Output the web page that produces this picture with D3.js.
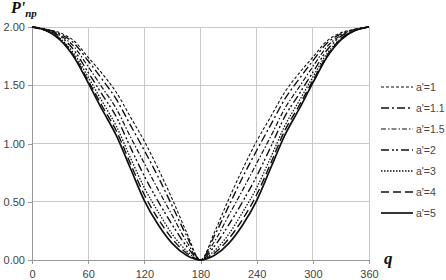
<!DOCTYPE html>
<html lang="en">
<head>
    <meta charset="UTF-8">
    <title>P'np vs q</title>
    <script src="https://cdn.jsdelivr.net/npm/d3@7/dist/d3.min.js"></script>
    <style>
        body { margin: 0; background: #fff; }
        svg text { font-family: "Liberation Sans", Arial, sans-serif; }
        g.axis path, g.axis line { stroke: #999; shape-rendering: crispEdges; }
        g.axis text { font-size: 11px; fill: #444; }
        .grid line { stroke: #c8c8c8; shape-rendering: crispEdges; }
    </style>
</head>
<body>
<script>
    // size of the picture
    var w = 446;
    var h = 280;

    // angles and tick labels
    var angles = [0, 15, 30, 45, 60, 75, 90, 105, 120, 135, 150, 165, 180,
                  195, 210, 225, 240, 255, 270, 285, 300, 315, 330, 345, 360];
    var xTicks = [0, 60, 120, 180, 240, 300, 360];
    var yTicks = [0, 0.5, 1, 1.5, 2];

    // series
    var names = ["a'=1", "a'=1.1", "a'=1.5", "a'=2", "a'=3", "a'=4", "a'=5"];
    var p1   = [2.00, 1.98, 1.95, 1.88, 1.74, 1.60, 1.44, 1.23, 1.02, 0.78, 0.52, 0.24, 0.00,
                0.24, 0.52, 0.78, 1.02, 1.23, 1.44, 1.60, 1.74, 1.88, 1.95, 1.98, 2.00];
    var p1_1 = [2.00, 1.98, 1.94, 1.86, 1.71, 1.55, 1.38, 1.16, 0.94, 0.71, 0.46, 0.21, 0.00,
                0.21, 0.46, 0.71, 0.94, 1.16, 1.38, 1.55, 1.71, 1.86, 1.94, 1.98, 2.00];
    var p1_5 = [2.00, 1.98, 1.93, 1.83, 1.66, 1.48, 1.30, 1.06, 0.83, 0.60, 0.38, 0.16, 0.00,
                0.16, 0.38, 0.60, 0.83, 1.06, 1.30, 1.48, 1.66, 1.83, 1.93, 1.98, 2.00];
    var p2   = [2.00, 1.97, 1.92, 1.80, 1.61, 1.42, 1.23, 0.97, 0.72, 0.50, 0.30, 0.12, 0.00,
                0.12, 0.30, 0.50, 0.72, 0.97, 1.23, 1.42, 1.61, 1.80, 1.92, 1.97, 2.00];
    var p3   = [2.00, 1.97, 1.90, 1.77, 1.57, 1.36, 1.15, 0.88, 0.62, 0.41, 0.22, 0.08, 0.00,
                0.08, 0.22, 0.41, 0.62, 0.88, 1.15, 1.36, 1.57, 1.77, 1.90, 1.97, 2.00];
    var p4   = [2.00, 1.97, 1.90, 1.75, 1.54, 1.32, 1.11, 0.83, 0.56, 0.35, 0.18, 0.06, 0.00,
                0.06, 0.18, 0.35, 0.56, 0.83, 1.11, 1.32, 1.54, 1.75, 1.90, 1.97, 2.00];
    var p5   = [2.00, 1.97, 1.89, 1.74, 1.52, 1.29, 1.07, 0.79, 0.51, 0.30, 0.14, 0.04, 0.00,
                0.04, 0.14, 0.30, 0.51, 0.79, 1.07, 1.29, 1.52, 1.74, 1.89, 1.97, 2.00];
    var series = [p1, p1_1, p1_5, p2, p3, p4, p5];

    // line styles per series
    var dashes = ["3,2", "8,3,2,3", "5,2,1.5,2", "8,3,2,2,2,3", "1.5,1.5", "8,4", null];
    var widths = [1.1, 1.4, 1.2, 1.4, 1.3, 1.4, 1.7];

    // plot box (window.top is read-only, so no "top" here)
    var plotLeft = 32, plotRight = 369, plotTop = 27, plotBottom = 260;

    var xScale = d3.scaleLinear().domain([0, 360]).range([plotLeft, plotRight]);
    var yScale = d3.scaleLinear().domain([0, 2]).range([plotBottom, plotTop]);

    var svg = d3.select('body').append('svg')
        .attr('width', w)
        .attr('height', h);

    // grid
    var grid = svg.append('g').attr('class', 'grid');
    grid.selectAll('line.h')
        .data(yTicks.slice(1))
        .enter().append('line')
        .attr('class', 'h')
        .attr('x1', plotLeft).attr('x2', plotRight)
        .attr('y1', function(d) { return yScale(d); })
        .attr('y2', function(d) { return yScale(d); });
    grid.selectAll('line.v')
        .data(xTicks.slice(1))
        .enter().append('line')
        .attr('class', 'v')
        .attr('y1', plotTop).attr('y2', plotBottom)
        .attr('x1', function(d) { return xScale(d); })
        .attr('x2', function(d) { return xScale(d); });

    // axes
    svg.append('g')
        .attr('class', 'axis')
        .attr('transform', 'translate(0,' + plotBottom + ')')
        .call(d3.axisBottom(xScale).tickValues(xTicks).tickSize(4).tickPadding(6).tickSizeOuter(0));

    svg.append('g')
        .attr('class', 'axis')
        .attr('transform', 'translate(' + plotLeft + ',0)')
        .call(d3.axisLeft(yScale).tickValues(yTicks).tickSize(4).tickPadding(3).tickSizeOuter(0)
            .tickFormat(d3.format('.2f')));

    // curves
    var line = d3.line()
        .x(function(d, i) { return xScale(angles[i]); })
        .y(function(d) { return yScale(d); })
        .curve(d3.curveMonotoneX);

    svg.selectAll('path.curve')
        .data(series)
        .enter().append('path')
        .attr('class', 'curve')
        .attr('d', line)
        .attr('fill', 'none')
        .attr('stroke', '#111')
        .attr('stroke-width', function(d, i) { return widths[i]; })
        .attr('stroke-dasharray', function(d, i) { return dashes[i]; });

    // legend
    var legend = svg.selectAll('g.legend')
        .data(names)
        .enter().append('g')
        .attr('class', 'legend')
        .attr('transform', function(d, i) { return 'translate(381,' + (87 + i * 21) + ')'; });

    legend.append('line')
        .attr('x1', 0).attr('x2', 32)
        .attr('y1', 0).attr('y2', 0)
        .attr('stroke', '#111')
        .attr('stroke-width', function(d, i) { return widths[i]; })
        .attr('stroke-dasharray', function(d, i) { return dashes[i]; });

    legend.append('text')
        .attr('x', 35)
        .attr('y', 4)
        .attr('font-size', '10.5px')
        .attr('fill', '#444')
        .text(function(d) { return d; });

    // axis titles
    var title = svg.append('text')
        .attr('x', 11)
        .attr('y', 13)
        .style('font-family', '"Liberation Serif", "Times New Roman", serif')
        .style('font-weight', 'bold')
        .style('font-style', 'italic')
        .attr('fill', '#111');
    title.append('tspan').attr('font-size', '16px').text("P'");
    title.append('tspan').attr('font-size', '11px').attr('dy', 4).text('np');

    svg.append('text')
        .attr('x', 384)
        .attr('y', 264)
        .style('font-family', '"Liberation Serif", "Times New Roman", serif')
        .style('font-weight', 'bold')
        .style('font-style', 'italic')
        .attr('font-size', '17px')
        .attr('fill', '#111')
        .text('q');
</script>
</body>
</html>
